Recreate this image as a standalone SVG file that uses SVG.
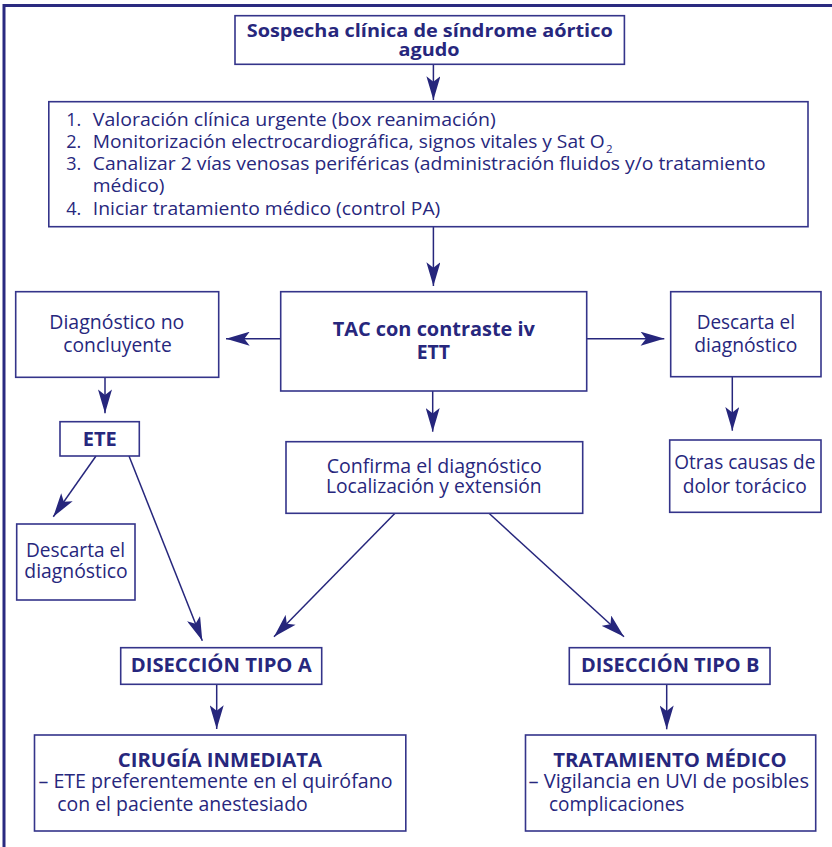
<svg xmlns="http://www.w3.org/2000/svg" width="832" height="847" viewBox="0 0 832 847">
<defs>
<style>
.box{fill:#fff;stroke:#34348a;stroke-width:1.6}
.t{font-family:"Open Sans","Noto Sans",sans-serif;fill:#27277d;font-size:20px}
.s{font-size:18px}
.b{font-weight:700}
.m{text-anchor:middle}
.c{stroke:#26267c;stroke-width:1.5;fill:none;marker-end:url(#ah)}
.frame{stroke:#2a2a80;stroke-width:3;fill:none}
</style>
<marker id="ah" markerUnits="userSpaceOnUse" markerWidth="24" markerHeight="14" viewBox="0 0 22 13" refX="22" refY="6.5" orient="auto">
<path d="M0,0 L22,6.5 L0,13 L5,6.5 z" fill="#26267c"/>
</marker>
</defs>
<rect width="832" height="847" fill="#fff"/>
<path class="frame" d="M4,847 V5.5 H832"/>

<g id="connectors">
<line class="c" x1="433.4" y1="64.3" x2="433.4" y2="100"/>
<line class="c" x1="433.4" y1="226.7" x2="433.4" y2="286"/>
<line class="c" x1="280.7" y1="338.7" x2="226" y2="338.7"/>
<line class="c" x1="586.7" y1="338.7" x2="664.3" y2="338.7"/>
<line class="c" x1="105" y1="377.3" x2="105" y2="413.3"/>
<line class="c" x1="732.3" y1="376.7" x2="732.3" y2="430.7"/>
<line class="c" x1="432.7" y1="391" x2="432.7" y2="431.7"/>
<line class="c" x1="96" y1="456" x2="53.3" y2="516.7"/>
<line class="c" x1="129" y1="456" x2="202.3" y2="640.7"/>
<line class="c" x1="395" y1="513.3" x2="274" y2="636.7"/>
<line class="c" x1="489" y1="513.3" x2="624" y2="636.7"/>
<line class="c" x1="216.7" y1="684.3" x2="216.7" y2="729"/>
<line class="c" x1="666.7" y1="684.3" x2="666.7" y2="729.3"/>
</g>

<g id="sospecha">
<rect class="box" x="235" y="15.7" width="389.4" height="48.6"/>
<text class="t b m" style="font-size:18.5px" x="429.7" y="36.7" textLength="366" lengthAdjust="spacingAndGlyphs">Sospecha clínica de síndrome aórtico</text>
<text class="t b m" style="font-size:18.5px" x="429" y="56.3" textLength="61" lengthAdjust="spacingAndGlyphs">agudo</text>
</g>

<g id="pasos">
<rect class="box" x="48.8" y="101.7" width="759.2" height="125"/>
<text class="t s" x="66.3" y="126">1.</text>
<text class="t s" x="92.8" y="126" textLength="403" lengthAdjust="spacingAndGlyphs">Valoración clínica urgente (box reanimación)</text>
<text class="t s" x="66.3" y="148.3">2.</text>
<text class="t s" x="92.8" y="148.3" textLength="512" lengthAdjust="spacingAndGlyphs">Monitorización electrocardiográfica, signos vitales y Sat O</text>
<text class="t" style="font-size:11.5px" x="606" y="152.5">2</text>
<text class="t s" x="66.3" y="170">3.</text>
<text class="t s" x="92.8" y="170" textLength="672.7" lengthAdjust="spacingAndGlyphs">Canalizar 2 vías venosas periféricas (administración fluidos y/o tratamiento</text>
<text class="t s" x="92.8" y="191.7" textLength="71.7" lengthAdjust="spacingAndGlyphs">médico)</text>
<text class="t s" x="66.3" y="215">4.</text>
<text class="t s" x="92.8" y="215" textLength="347.5" lengthAdjust="spacingAndGlyphs">Iniciar tratamiento médico (control PA)</text>
</g>

<g id="tac">
<rect class="box" x="280.7" y="291.7" width="306" height="99.3"/>
<text class="t b m" x="433.8" y="336" textLength="202.3" lengthAdjust="spacingAndGlyphs">TAC con contraste iv</text>
<text class="t b m" x="433.3" y="359" textLength="33.3" lengthAdjust="spacingAndGlyphs">ETT</text>
</g>

<g id="no-concluyente">
<rect class="box" x="15.7" y="291.7" width="203" height="85.6"/>
<text class="t m" x="116.8" y="329.3" textLength="135" lengthAdjust="spacingAndGlyphs">Diagnóstico no</text>
<text class="t m" x="117.5" y="351.7" textLength="108.4" lengthAdjust="spacingAndGlyphs">concluyente</text>
</g>

<g id="descarta-derecha">
<rect class="box" x="670.7" y="291.7" width="150.3" height="85"/>
<text class="t m" x="745.8" y="329.3" textLength="98.3" lengthAdjust="spacingAndGlyphs">Descarta el</text>
<text class="t m" x="745.8" y="351.7" textLength="103" lengthAdjust="spacingAndGlyphs">diagnóstico</text>
</g>

<g id="ete">
<rect class="box" x="60" y="421.7" width="79.3" height="34.3"/>
<text class="t b m" x="99.7" y="445.7" textLength="34" lengthAdjust="spacingAndGlyphs">ETE</text>
</g>

<g id="otras-causas">
<rect class="box" x="669.7" y="440" width="151.3" height="72.3"/>
<text class="t m" x="744.8" y="469.3" textLength="141" lengthAdjust="spacingAndGlyphs">Otras causas de</text>
<text class="t m" x="744.7" y="493.3" textLength="124" lengthAdjust="spacingAndGlyphs">dolor torácico</text>
</g>

<g id="confirma">
<rect class="box" x="286" y="441.7" width="296.7" height="71.6"/>
<text class="t m" x="434.2" y="472.7" textLength="215" lengthAdjust="spacingAndGlyphs">Confirma el diagnóstico</text>
<text class="t m" x="433.8" y="493.3" textLength="215.7" lengthAdjust="spacingAndGlyphs">Localización y extensión</text>
</g>

<g id="descarta-izquierda">
<rect class="box" x="16.7" y="524" width="118.3" height="76"/>
<text class="t m" x="75.5" y="557.3" textLength="99" lengthAdjust="spacingAndGlyphs">Descarta el</text>
<text class="t m" x="76" y="577.7" textLength="103.4" lengthAdjust="spacingAndGlyphs">diagnóstico</text>
</g>

<g id="tipo-a">
<rect class="box" x="120.7" y="647.7" width="201" height="36.6"/>
<text class="t b m" style="font-size:19px" x="221.2" y="671.7" textLength="181" lengthAdjust="spacingAndGlyphs">DISECCIÓN TIPO A</text>
</g>

<g id="tipo-b">
<rect class="box" x="569.3" y="647.7" width="200.7" height="36.6"/>
<text class="t b m" style="font-size:19px" x="670.2" y="671.7" textLength="178.3" lengthAdjust="spacingAndGlyphs">DISECCIÓN TIPO B</text>
</g>

<g id="cirugia">
<rect class="box" x="34.5" y="735" width="371.3" height="96"/>
<text class="t b m" style="font-size:19px" x="219.9" y="766.5" textLength="204.2" lengthAdjust="spacingAndGlyphs">CIRUGÍA INMEDIATA</text>
<text class="t" x="38.5" y="788.3" textLength="354" lengthAdjust="spacingAndGlyphs">– ETE preferentemente en el quirófano</text>
<text class="t" x="57.3" y="810.7" textLength="250.4" lengthAdjust="spacingAndGlyphs">con el paciente anestesiado</text>
</g>

<g id="tratamiento">
<rect class="box" x="525.5" y="735" width="290.2" height="96"/>
<text class="t b m" style="font-size:19px" x="670" y="766.5" textLength="233.4" lengthAdjust="spacingAndGlyphs">TRATAMIENTO MÉDICO</text>
<text class="t" x="528.5" y="788.3" textLength="280.5" lengthAdjust="spacingAndGlyphs">– Vigilancia en UVI de posibles</text>
<text class="t" x="549" y="810.7" textLength="135.4" lengthAdjust="spacingAndGlyphs">complicaciones</text>
</g>
</svg>
